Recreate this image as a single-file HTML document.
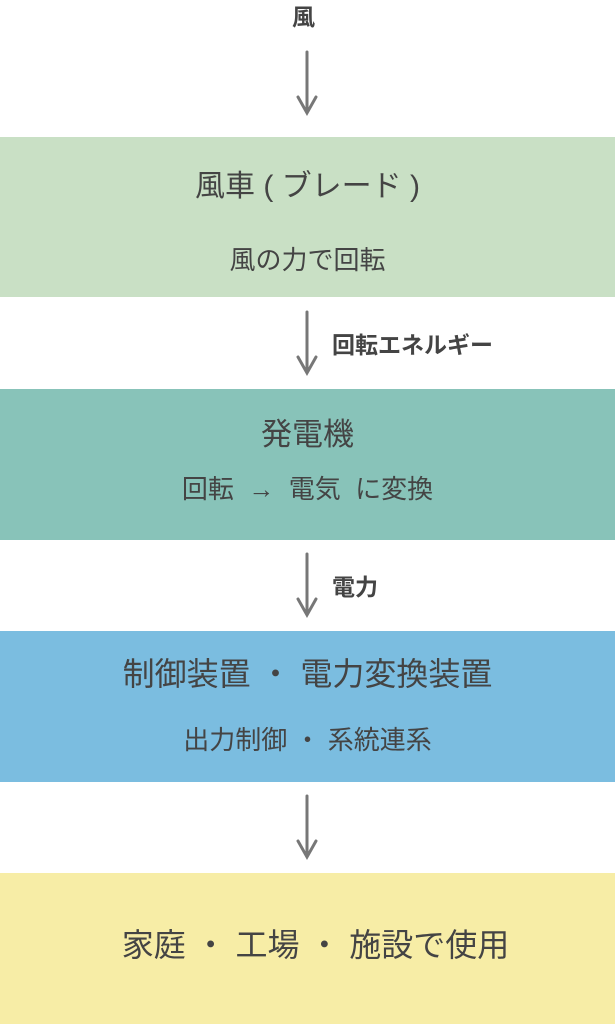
<!DOCTYPE html>
<html><head><meta charset="utf-8"><style>
body{margin:0;width:615px;height:1024px;background:#fff;position:relative;overflow:hidden;font-family:"Liberation Sans","Noto Sans CJK JP",sans-serif;color:#444}
.b{position:absolute;left:0;width:615px}
.t{position:absolute;left:0;width:615px;text-align:center;white-space:nowrap;line-height:1}
.l{position:absolute;font-weight:bold;font-size:23px;line-height:1;color:#444}
svg{position:absolute;left:0;top:0}
</style></head><body>
<div class="b" style="top:137px;height:160px;background:#c9e0c5"></div>
<div class="b" style="top:389px;height:151px;background:#88c3b9"></div>
<div class="b" style="top:631px;height:151px;background:#7bbde0"></div>
<div class="b" style="top:873px;height:151px;background:#f7eda6"></div>

<div class="l" style="left:292px;top:6px">風</div>
<div class="l" style="left:332px;top:334px">回転エネルギー</div>
<div class="l" style="left:332px;top:576px">電力</div>

<div class="t" style="top:172px;font-size:30px">風車 ( ブレード )</div>
<div class="t" style="top:247px;font-size:26px">風の力で回転</div>
<div class="t" style="top:419px;font-size:31px">発電機</div>
<div class="t" style="top:476px;font-size:26px">回転 &nbsp;→&nbsp; 電気 &nbsp;に変換</div>
<div class="t" style="top:658px;font-size:32px">制御装置 ・ 電力変換装置</div>
<div class="t" style="top:727px;font-size:26px">出力制御 ・ 系統連系</div>
<div class="t" style="top:929px;left:8px;font-size:32px">家庭 ・ 工場 ・ 施設で使用</div>

<svg width="615" height="1024">
<g stroke="#777" stroke-width="3" fill="none" stroke-linecap="round">
<line x1="307" y1="52" x2="307" y2="112"/><polyline points="298,97 307,113 316,97"/>
<line x1="307" y1="312" x2="307" y2="372"/><polyline points="298,357 307,373 316,357"/>
<line x1="307" y1="554" x2="307" y2="614"/><polyline points="298,599 307,615 316,599"/>
<line x1="307" y1="796" x2="307" y2="856"/><polyline points="298,841 307,857 316,841"/>
</g></svg>
</body></html>
